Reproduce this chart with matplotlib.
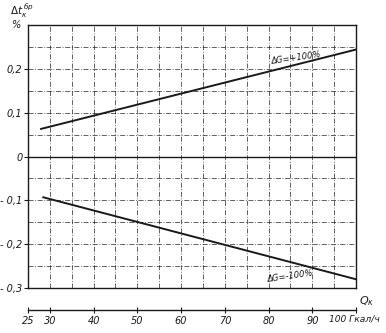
import matplotlib
matplotlib.use("Agg")
import matplotlib.pyplot as plt
import numpy as np

# ── Data ──────────────────────────────────────────────────────────────────────
q_plus      = [28.0, 100.0]          # Гкал/ч
dt_plus     = [0.063, 0.244]         # ΔG = +100 %
q_minus     = [28.5, 100.0]
dt_minus    = [-0.093, -0.280]       # ΔG = -100 %

x_ticks     = [25, 30, 40, 50, 60, 70, 80, 90, 100]
x_labels    = ["25", "30", "40", "50", "60", "70", "80", "90", ""]
y_ticks     = [-0.3, -0.2, -0.1, 0.0, 0.1, 0.2]
y_labels    = ["- 0,3", "- 0,2", "- 0,1", "0", "0,1", "0,2"]

INK = "#1a1a1a"
FONT = dict(family="DejaVu Sans", style="italic", color=INK)

fig = plt.figure(figsize=(3.86, 3.33), dpi=100)
ax = fig.add_axes([0.0725, 0.135, 0.850, 0.790])

ax.set_xlim(25, 100)
ax.set_ylim(-0.3, 0.3)

# grid every 5 units / 0.05 — dash-dot like the drafting sheet
for xv in np.arange(30, 100, 5):
    ax.axvline(xv, color=INK, lw=0.6, ls=(0, (6, 2, 1, 2)), alpha=0.8)
for yv in np.arange(-0.25, 0.3, 0.05):
    if abs(yv) < 1e-9:
        continue
    ax.axhline(yv, color=INK, lw=0.6, ls=(0, (6, 2, 1, 2)), alpha=0.8)
ax.axhline(0, color=INK, lw=1.0)

ax.plot(q_plus, dt_plus, color=INK, lw=1.4)
ax.plot(q_minus, dt_minus, color=INK, lw=1.4)

ax.text(80.5, 0.212, "ΔG=+100%", rotation=8, fontsize=6, **FONT)
ax.text(79.5, -0.287, "ΔG=-100%", rotation=8, fontsize=6, **FONT)

for s in ax.spines.values():
    s.set_color(INK)
    s.set_linewidth(1.0)

ax.set_xticks([])
ax.set_yticks(y_ticks)
ax.set_yticklabels(y_labels, fontsize=7, fontstyle="italic", color=INK)
ax.tick_params(axis="y", length=3, width=0.8, color=INK, pad=1)

# y-axis caption
fig.text(0.025, 0.955, r"$\Delta t_{\kappa}^{\,бр}$", fontsize=7.5, color=INK,
         style="italic")
fig.text(0.030, 0.915, "%", fontsize=7, **FONT)

# separate x scale below the field
axx = fig.add_axes([0.0725, 0.069, 0.850, 0.0])
axx.set_xlim(25, 100)
axx.set_yticks([])
for k in ("top", "left", "right"):
    axx.spines[k].set_visible(False)
axx.spines["bottom"].set_color(INK)
axx.spines["bottom"].set_linewidth(1.0)
axx.set_xticks(x_ticks)
axx.set_xticklabels(x_labels, fontsize=7, fontstyle="italic", color=INK)
axx.tick_params(axis="x", direction="inout", length=4, width=0.8, color=INK, pad=2)

fig.text(0.985, 0.057, "100 Гкал/ч", fontsize=6.6, ha="right", va="top", **FONT)
fig.text(0.93, 0.085, r"$Q_{\kappa}$", fontsize=8, color=INK)

fig.savefig("out.png", dpi=100, facecolor="white")
